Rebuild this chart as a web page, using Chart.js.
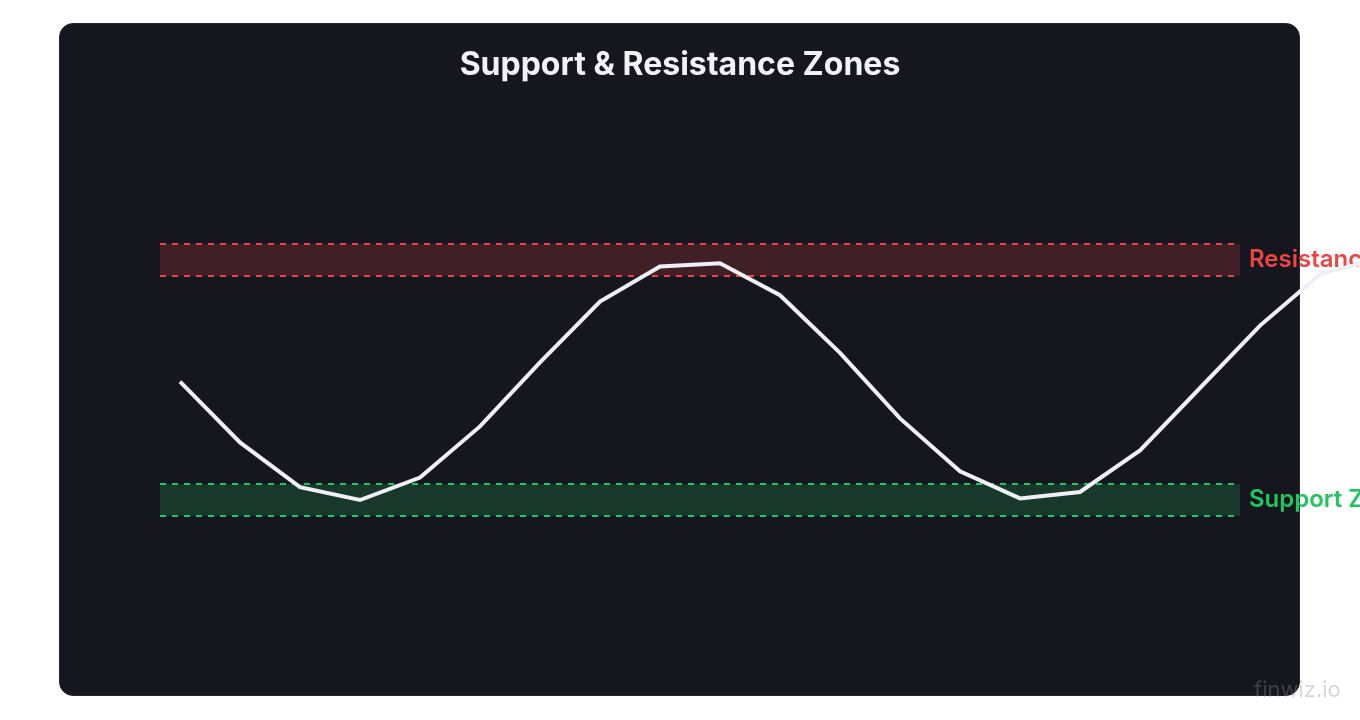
<!DOCTYPE html>
<html>
<head>
<meta charset="utf-8">
<script src="https://cdn.jsdelivr.net/npm/chart.js@4.4.1/dist/chart.umd.min.js"></script>
<style>
  html, body { margin: 0; padding: 0; background: #ffffff; width: 1360px; height: 720px; overflow: hidden; }
  .card {
    position: absolute; left: 59px; top: 23px; width: 1239px; height: 671px;
    background: #16161f; border: 1px solid #262633; border-radius: 14px;
  }
  #chartBox { position: absolute; left: 0; top: 0; width: 1360px; height: 720px; }
  .mark {
    position: absolute; left: 1254px; top: 676px;
    font-family: Inter, sans-serif; font-size: 22px; color: rgba(140, 140, 150, 0.35);
  }
</style>
</head>
<body>
<div class="card"></div>
<div id="chartBox"><canvas id="zonas" width="1360" height="720"></canvas></div>
<div class="mark">finwiz.io</div>
<script>
// Días y precios de la serie
var dias = [1, 2, 3, 4, 5, 6, 7, 8, 9, 10, 11, 12, 13, 14, 15, 16, 17, 18, 19, 20, 21];
var precios = [103.4, 99.6, 96.8, 96.0, 97.4, 100.6, 104.6, 108.4, 110.6, 110.8, 108.8, 105.2,
               101.1, 97.8, 96.1, 96.5, 99.1, 103.0, 106.9, 110.1, 111.1];

// Zonas (precio mínimo y máximo)
var resistencia = [110, 112];
var soporte = [95, 97];
var etiquetasZonas = ['Resistance Zone', 'Support Zone'];

// Plugin para dibujar las zonas con sus etiquetas
var zonasPlugin = {
    id: 'zonas',
    beforeDatasetsDraw: function(chart) {
        var ctx = chart.ctx;
        var area = chart.chartArea;
        var y = chart.scales.y;
        var zonas = [
            { r: resistencia, color: '#ef4444', fill: 'rgba(239, 68, 68, 0.2)', label: etiquetasZonas[0] },
            { r: soporte, color: '#22c55e', fill: 'rgba(34, 197, 94, 0.2)', label: etiquetasZonas[1] }
        ];
        var x0 = area.left + 40;
        var x1 = area.right;
        zonas.forEach(function(z) {
            var top = y.getPixelForValue(z.r[1]);
            var bot = y.getPixelForValue(z.r[0]);
            ctx.save();
            ctx.fillStyle = z.fill;
            ctx.fillRect(x0, top, x1 - x0, bot - top);
            ctx.strokeStyle = z.color;
            ctx.lineWidth = 2;
            ctx.setLineDash([6, 6]);
            ctx.beginPath();
            ctx.moveTo(x0, top); ctx.lineTo(x1, top);
            ctx.moveTo(x0, bot); ctx.lineTo(x1, bot);
            ctx.stroke();
            ctx.setLineDash([]);
            ctx.fillStyle = z.color;
            ctx.font = '600 24px Inter';
            ctx.textAlign = 'left';
            ctx.textBaseline = 'middle';
            ctx.fillText(z.label, x1 + 9, (top + bot) / 2);
            ctx.restore();
        });
    }
};

var ctx = document.getElementById('zonas').getContext('2d');
var miGrafico = new Chart(ctx, {
    type: 'line',
    data: {
        datasets: [{
            label: 'Precio',
            data: dias.map(function(d, i) { return { x: d, y: precios[i] }; }),
            borderColor: '#eef0f6',
            borderWidth: 4,
            pointRadius: 0,
            tension: 0,
            clip: false,
            fill: false
        }]
    },
    options: {
        responsive: false,
        animation: false,
        layout: { padding: { left: 120, right: 120, top: 0, bottom: 44 } },
        plugins: {
            legend: { display: false },
            tooltip: { enabled: false },
            title: {
                display: true,
                text: 'Support & Resistance Zones',
                color: '#f1f2f7',
                font: { family: 'Inter', size: 32, weight: 'bold' },
                padding: { top: 46, bottom: 31.6 }
            }
        },
        scales: {
            x: {
                type: 'linear',
                display: false,
                bounds: 'data',
                // rango fijo sin recortar los últimos puntos
                afterDataLimits: function(scale) {
                    scale.min = 0;
                    scale.max = 56 / 3;
                }
            },
            y: { display: false, min: 85, max: 120 }
        }
    },
    plugins: [zonasPlugin]
});
</script>
</body>
</html>
